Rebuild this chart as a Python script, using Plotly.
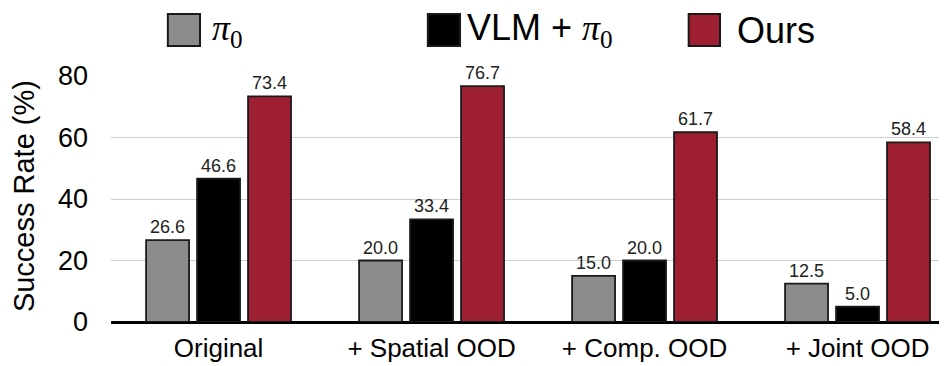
import plotly.graph_objects as go

categories = ["Original", "+ Spatial OOD", "+ Comp. OOD", "+ Joint OOD"]
pi0_values = [26.6, 20.0, 15.0, 12.5]
vlm_pi0_values = [46.6, 33.4, 20.0, 5.0]
ours_values = [73.4, 76.7, 61.7, 58.4]
y_ticks = [0, 20, 40, 60, 80]

series = [
    ("π0", pi0_values, "#8c8c8c"),
    ("VLM + π0", vlm_pi0_values, "#000000"),
    ("Ours", ours_values, "#9e1f32"),
]

FONT = "Liberation Sans, Arial, sans-serif"
PI = "<span style='font-family:Liberation Serif'><i>π</i><sub>0</sub></span>"

fig = go.Figure()
for name, vals, color in series:
    fig.add_trace(go.Bar(
        x=categories, y=vals, name=name,
        marker=dict(color=color, line=dict(color="#1a1a1a", width=1.8)),
        text=[f"{v:.1f}" for v in vals], textposition="outside",
        textfont=dict(family=FONT, size=18, color="#222"),
        cliponaxis=False, showlegend=False,
    ))

# hand-made legend with big swatches (paper coords)
legend_items = [
    (0.068, 0.1065, 0.121, PI, "#8c8c8c"),
    (0.379, 0.4175, 0.426, "VLM + " + PI, "#000000"),
    (0.691, 0.7285, 0.749, "Ours", "#9e1f32"),
]
shapes = []
annotations = []
for x0, x1, xt, label, color in legend_items:
    shapes.append(dict(type="rect", xref="paper", yref="paper",
                       x0=x0, x1=x1, y0=1.122, y1=1.252,
                       fillcolor=color, line=dict(color="#1a1a1a", width=2)))
    annotations.append(dict(text=label, xref="paper", yref="paper",
                            x=xt, y=1.185, xanchor="left", yanchor="middle",
                            showarrow=False, xshift=-2,
                            font=dict(family=FONT, size=36, color="#000")))

# y axis title as a rotated annotation
annotations.append(dict(text="Success Rate (%)", xref="paper", yref="paper",
                        x=-0.104, y=0.512, xanchor="center", yanchor="middle",
                        textangle=-90, showarrow=False,
                        font=dict(family=FONT, size=29, color="#000")))

fig.update_layout(
    width=939, height=358,
    margin=dict(l=103, r=0, t=68, b=44),
    paper_bgcolor="white", plot_bgcolor="white",
    barmode="group", bargap=0.282, bargroupgap=0.157,
    shapes=shapes, annotations=annotations,
    font=dict(family=FONT, color="#000"),
)
fig.update_xaxes(
    range=[-0.505, 3.42],
    showgrid=False, showline=False, ticks="", automargin=False,
    ticklabelstandoff=8,
    tickfont=dict(family=FONT, size=26, color="#000"),
)
fig.update_yaxes(
    range=[0, 80], tickvals=y_ticks, automargin=False,
    showgrid=True, gridcolor="#cfcfcf", gridwidth=1.2,
    zeroline=True, zerolinecolor="#000", zerolinewidth=2.5,
    showline=False, ticks="", ticklabelstandoff=22,
    tickfont=dict(family=FONT, size=27, color="#000"),
)

fig.write_html("out.html")
